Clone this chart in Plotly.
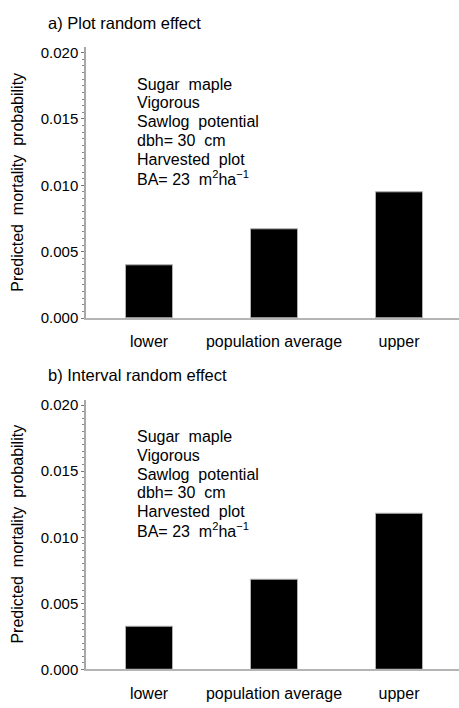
import plotly.graph_objects as go

categories = ["lower", "population average", "upper"]
plot_effect = [0.0040, 0.00672, 0.00946]
interval_effect = [0.0032, 0.0068, 0.0118]
panel_titles = ["a) Plot random effect", "b) Interval random effect"]
y_ticks = [0.0, 0.005, 0.010, 0.015, 0.020]
y_ticktext = ["0.000", "0.005", "0.010", "0.015", "0.020"]
info_lines = ["Sugar  maple", "Vigorous", "Sawlog  potential", "dbh= 30  cm",
              "Harvested  plot", "BA= 23  m<sup>2</sup>ha<sup>\u22121</sup>"]
y_label = "Predicted  mortality  probability"

W, H = 459, 708
FONT = "Liberation Sans, Arial, sans-serif"

fig = go.Figure()
panels = [(45, 320), (403, 677)]
series = [plot_effect, interval_effect]

def px_x(p):
    return (p - 86) / (W - 86)

def px_y(p):
    return 1 - p / H

for i, (vals, (top, bot)) in enumerate(zip(series, panels)):
    xa = "x" if i == 0 else "x2"
    ya = "y" if i == 0 else "y2"
    fig.add_trace(go.Bar(
        x=categories, y=vals, xaxis=xa, yaxis=ya, width=0.376,
        marker=dict(color="black", line=dict(color="#b0b0b0", width=1)),
        showlegend=False, hoverinfo="skip"))
    ykey = "yaxis" if i == 0 else "yaxis2"
    xkey = "xaxis" if i == 0 else "xaxis2"
    fig.layout[xkey] = dict(
        domain=[0, 1], anchor=ya, range=[-0.504, 2.48],
        showline=True, linecolor="#b4b4b4", linewidth=2,
        showgrid=False, zeroline=False,
        ticks="outside", ticklen=8, tickcolor="rgba(0,0,0,0)",
        tickfont=dict(family=FONT, size=16, color="black"))
    fig.layout[ykey] = dict(
        domain=[px_y(bot), px_y(top)], anchor=xa, range=[0, 0.0204],
        showline=True, linecolor="#a8a8a8", linewidth=1.5,
        showgrid=False, zeroline=False,
        tickmode="array", tickvals=y_ticks, ticktext=y_ticktext,
        ticks="outside", ticklen=3, tickwidth=1, tickcolor="#777",
        minor=dict(dtick=0.0005, ticks="outside", ticklen=2, tickcolor="#888",
                   tickwidth=1, showgrid=False),
        tickfont=dict(family=FONT, size=15, color="black"))
    fig.add_annotation(text=y_label, textangle=-90, xref="paper", yref="paper",
                       x=px_x(18), y=px_y((top + bot) / 2), showarrow=False,
                       xanchor="center", yanchor="middle",
                       font=dict(family=FONT, size=16, color="black"))
    fig.add_annotation(text=panel_titles[i], xref="paper", yref="paper",
                       x=px_x(46), y=px_y(top - 25), showarrow=False,
                       xanchor="left", yanchor="middle",
                       font=dict(family=FONT, size=16.5, color="black"))
    for j, line in enumerate(info_lines):
        fig.add_annotation(text=line, xref="paper", yref="paper", align="left",
                           x=px_x(135), y=px_y(top + 37.5 + 19 * j), showarrow=False,
                           xanchor="left", yanchor="middle",
                           font=dict(family=FONT, size=16, color="black"))

fig.update_layout(width=W, height=H, margin=dict(l=86, r=0, t=0, b=0),
                  paper_bgcolor="white", plot_bgcolor="white", bargap=0)
fig.write_html("out.html", config={"displayModeBar": False},
               post_script="document.body.style.margin='0';")
